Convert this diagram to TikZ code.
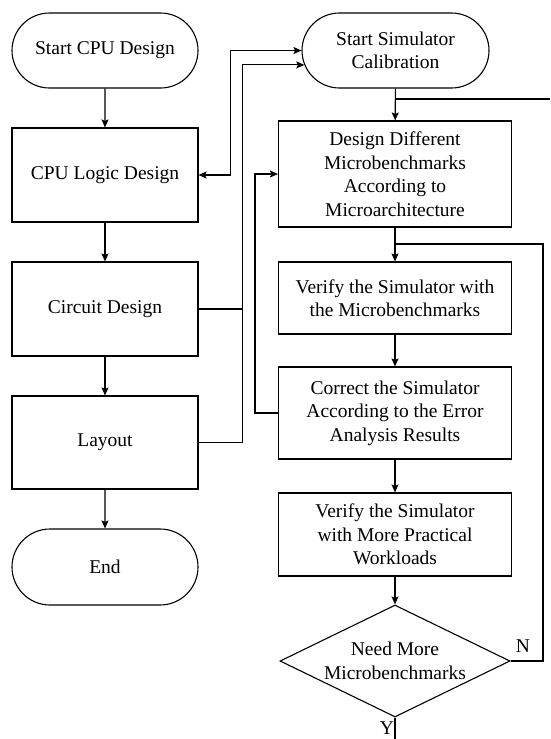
\documentclass[tikz,border=0pt]{standalone}
\usepackage{fontspec}
\setmainfont{Liberation Serif}
\usetikzlibrary{arrows.meta,shapes.misc,shapes.geometric}

\begin{document}
\begin{tikzpicture}[x=1pt,y=-1pt,
  line width=1.1pt,
  >={Stealth[length=8pt,width=7pt,inset=1.5pt]},
  every node/.style={font=\fontsize{19.5}{23.5}\selectfont, align=center, inner sep=0pt},
  lbox/.style={draw, rectangle, minimum width=186pt},
  rbox/.style={draw, rectangle, minimum width=233pt},
  term/.style={draw, rounded rectangle, minimum height=75pt},
  decision/.style={draw, diamond, aspect=2.05, minimum width=230pt, minimum height=112pt}]

\useasboundingbox (0,0) rectangle (550,739);

% CPU design flow
\node[term, minimum width=186pt] (s1) at (105,50.5) {Start CPU Design};
\node[lbox, minimum height=94pt] (l1) at (105,175) {CPU Logic Design};
\node[lbox, minimum height=94pt] (l2) at (105,309) {Circuit Design};
\node[lbox, minimum height=93pt] (l3) at (105,442.5) {Layout};
\node[term, minimum width=186pt, minimum height=76pt] (e) at (105,567) {End};

% Simulator calibration flow
\node[term, minimum width=187pt] (r0) at (395.5,50.5) {Start Simulator\\Calibration};
\node[rbox, minimum height=106pt] (r1) at (395,174) {Design Different\\Microbenchmarks\\According to\\Microarchitecture};
\node[rbox, minimum height=72pt] (r2) at (395,298) {Verify the Simulator with\\the Microbenchmarks};
\node[rbox, minimum height=92pt] (r3) at (395,413) {Correct the Simulator\\According to the Error\\Analysis Results};
\node[rbox, minimum height=83pt] (r4) at (395,534.5) {Verify the Simulator\\with More Practical\\Workloads};
\node[decision] (d) at (395,661) {Need More\\Microbenchmarks};

\node (ylab) at (387,728) {Y};
\node (nlab) at (523,646) {N};

\coordinate (topright) at (550,99);
\coordinate (nloop) at (543,244);
\coordinate (ybot) at (395,739);

% main sequences
\draw[->] (s1) -- (l1);
\draw[->] (l1) -- (l2);
\draw[->] (l2) -- (l3);
\draw[->] (l3) -- (e);
\draw[->] (r0) -- (r1);
\draw[->] (r1) -- (r2);
\draw[->] (r2) -- (r3);
\draw[->] (r3) -- (r4);
\draw[->] (r4) -- (d);

% links between the two flows
\draw[<->] (l1.east) -- ++(32,0) |- (r0.west);
\draw[->] (l3.east) -- ++(44,0) |- (r0.189);
\draw (l2.east) -- ++(44,0);

% feedback loops
\draw[->] (r3.west) -- ++(-23,0) |- (r1.west);
\draw (r1.north |- topright) -- (topright);
\draw (d.east) -| (nloop) -- (r1.south |- nloop);
\draw (d.south) -- (ybot);
\end{tikzpicture}
\end{document}
